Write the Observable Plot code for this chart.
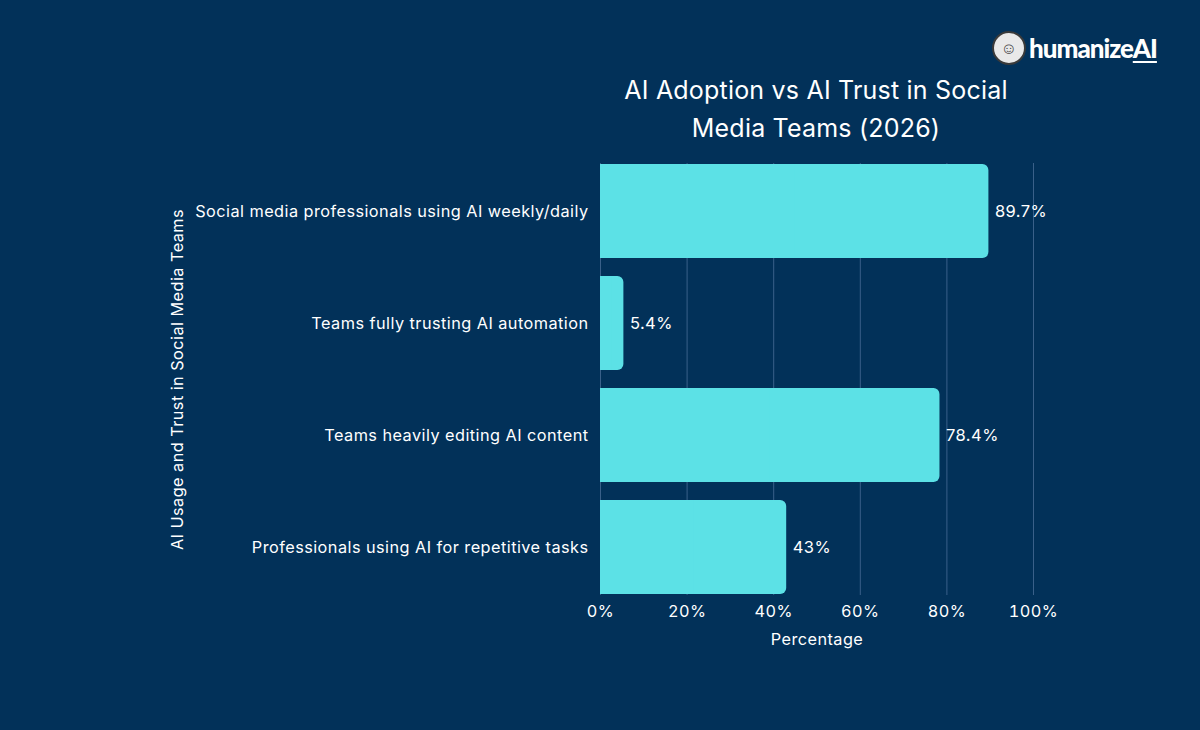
<!DOCTYPE html>
<html>
<head>
<meta charset="utf-8">
<script src="https://cdn.jsdelivr.net/npm/d3@7"></script>
<script src="https://cdn.jsdelivr.net/npm/@observablehq/plot@0.6"></script>
<style>
  html, body { margin: 0; padding: 0; background: #023159; }
  #wrap { position: relative; width: 1200px; height: 730px; background: #023159; overflow: hidden; font-family: Inter, "Liberation Sans", Arial, sans-serif; }
  #title { position: absolute; left: 516px; width: 600px; top: 71px; text-align: center; color: #ffffff; font-size: 25px; line-height: 38px; letter-spacing: 0.2px; }
  #logo { position: absolute; left: 992px; top: 30px; height: 36px; display: flex; align-items: center; }
  #logo .circ { width: 34px; height: 34px; border-radius: 50%; background: #e9e9e9; border: 2px solid #3a3a3a; box-sizing: border-box; display:flex; align-items:center; justify-content:center; color:#444; font-size: 16px; font-weight: bold; }
  #logo .txt { margin-left: 3px; color: #fff; font-family: "Lato", "Liberation Sans", sans-serif; font-weight: 900; font-size: 26px; letter-spacing: -1px; }
  #logo .ai { text-decoration: underline; text-decoration-thickness: 2px; text-underline-offset: 3px; }
  #chart { position: absolute; left: 0; top: 0; }
  #chart svg text { letter-spacing: 0.45px; }
</style>
</head>
<body>
<div id="wrap">
  <div id="chart"></div>
  <div id="title">AI Adoption vs AI Trust in Social<br>Media Teams (2026)</div>
  <div id="logo"><div class="circ">☺</div><div class="txt">humanize<span class="ai">AI</span></div></div>
</div>
<script>
const categories = [
  "Social media professionals using AI weekly/daily",
  "Teams fully trusting AI automation",
  "Teams heavily editing AI content",
  "Professionals using AI for repetitive tasks"
];
const values = [89.7, 5.4, 78.4, 43];
const valueLabels = ["89.7%", "5.4%", "78.4%", "43%"];
const xTicks = [0, 20, 40, 60, 80, 100];

const data = categories.map((c, i) => ({category: c, value: values[i], label: valueLabels[i]}));

const barColor = "#5ce1e6";

const chart = Plot.plot({
  width: 1200,
  height: 730,
  marginLeft: 600,
  marginRight: 167,
  marginTop: 163,
  marginBottom: 135,
  style: {background: "transparent", color: "#ffffff", fontFamily: "Inter, 'Liberation Sans', Arial, sans-serif", fontSize: "16.3px"},
  x: {domain: [0, 100], ticks: xTicks, tickFormat: d => d + "%", label: "Percentage", labelArrow: "none"},
  y: {domain: categories, paddingInner: 0.165, paddingOuter: 0, label: "AI Usage and Trust in Social Media Teams"},
  marks: [
    Plot.gridX(xTicks, {stroke: "#3a6089", strokeOpacity: 1, strokeWidth: 1}),
    Plot.barX(data, {x: "value", y: "category", fill: barColor, rx: 6}),
    Plot.barX(data, {x1: 0, x2: d => d.value / 2, y: "category", fill: barColor}),
    Plot.text(data, {x: "value", y: "category", text: "label", textAnchor: "start", dx: 6, fill: "#ffffff", fontSize: 16.5}),
    Plot.axisX({ticks: xTicks, tickFormat: d => d + "%", tickSize: 0, tickPadding: 10, fontSize: 16.3, label: "Percentage", labelArrow: "none", labelAnchor: "center", labelOffset: 49}),
    Plot.axisY({tickSize: 0, tickPadding: 12, fontSize: 16.3, label: "AI Usage and Trust in Social Media Teams", labelArrow: "none", labelAnchor: "center", labelOffset: 429})
  ]
});
document.getElementById("chart").appendChild(chart);
</script>
</body>
</html>
